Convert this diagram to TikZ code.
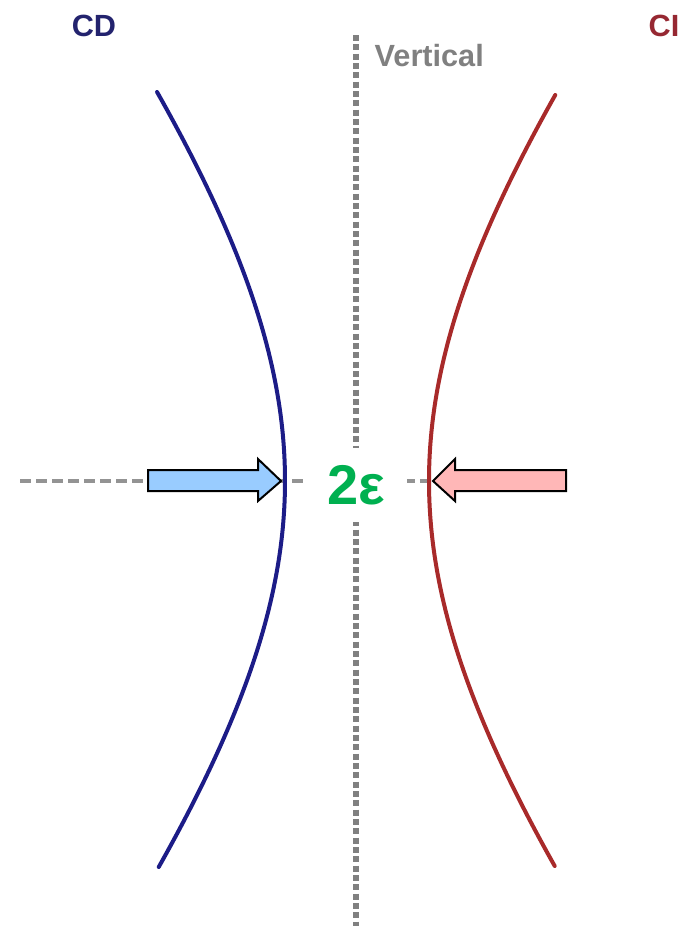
\documentclass[tikz,border=0pt]{standalone}
\usepackage{fontspec}
\setmainfont{Liberation Sans}
\definecolor{cdblue}{RGB}{28,28,135}
\definecolor{cired}{RGB}{168,42,42}
\definecolor{cdtext}{RGB}{35,35,110}
\definecolor{citext}{RGB}{150,40,50}
\definecolor{epsgreen}{RGB}{0,176,80}
\definecolor{arrowblue}{RGB}{153,204,255}
\definecolor{arrowred}{RGB}{255,183,183}
\tikzset{
  axisline/.style={gray,line width=4pt,dash pattern=on 4.5pt off 2.5pt},
  levelline/.style={gray!85,line width=2.4pt,dash pattern=on 8.5pt off 3.5pt},
  curveline/.style={line width=3pt,line cap=round},
  pusharrow/.style={draw=black,line width=1.5pt,line join=miter},
  title/.style={font=\fontsize{23}{26}\selectfont\bfseries},
}
\begin{document}
\begin{tikzpicture}[x=0.75pt,y=-0.75pt]
\useasboundingbox (0,0) rectangle (691,926);
\coordinate (O) at (356,481);
% axes
\draw[axisline] (356,35) -- (356,926);
\draw[levelline] (20,481) -- (433,481);
% the two curves
\draw[curveline,cdblue] plot[domain=-389:386,samples=90,smooth] ({356-(71+324*(sqrt(1+(\x/400)^2)-1))},{481+\x});
\draw[curveline,cired] plot[domain=-386:385,samples=90,smooth] ({356+(73+324*(sqrt(1+(\x/400)^2)-1))},{481+\x});
% arrows
\draw[pusharrow,fill=arrowblue] (148,470) -- (258,470) -- (258,459) -- (281,481) -- (258,501) -- (258,491) -- (148,491) -- cycle;
\draw[pusharrow,fill=arrowred] (566,470) -- (455,470) -- (455,459) -- (433,481) -- (455,501) -- (455,491) -- (566,491) -- cycle;
% labels
\node[fill=white,minimum width=76pt,minimum height=56pt,inner sep=0pt,text=epsgreen,font=\fontsize{42}{44}\selectfont\bfseries] (eps) at (356,485) {2ε};
\node[title,text=cdtext] (cd) at (94,26) {CD};
\node[title,text=citext] (ci) at (664,26) {CI};
\node[title,text=gray,anchor=west] (vert) at (370,56) {Vertical};
\end{tikzpicture}
\end{document}
